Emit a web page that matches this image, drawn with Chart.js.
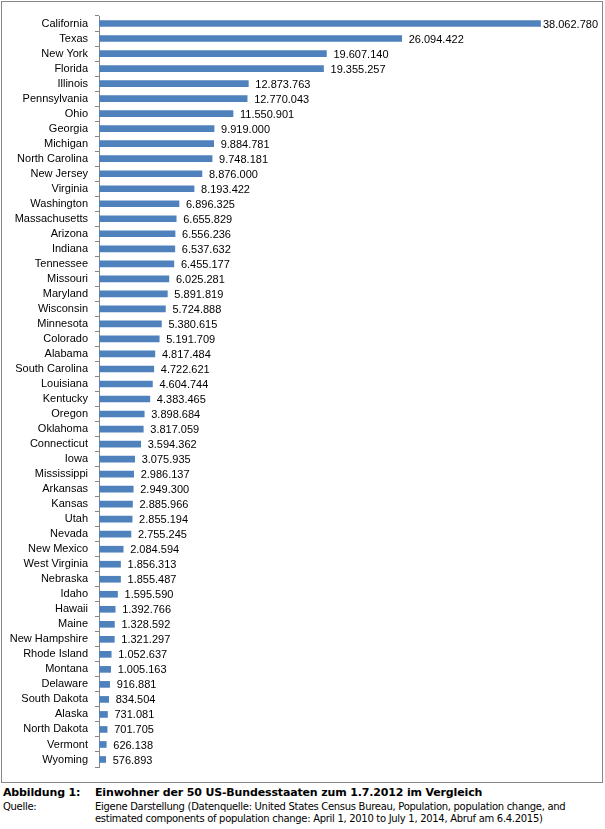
<!DOCTYPE html>
<html>
<head>
<meta charset="utf-8">
<script src="https://cdn.jsdelivr.net/npm/chart.js@4.4.1/dist/chart.umd.min.js"></script>
<style>
  body { margin: 0; background: #fff; width: 605px; height: 829px; position: relative; overflow: hidden; }
  #box { position: absolute; left: 1px; top: 1px; width: 600px; height: 780px; border: 1px solid #868686; }
  #myChart { position: absolute; left: 0; top: 0; }
  .cap { position: absolute; font-family: "DejaVu Sans", Verdana, sans-serif; color: #000; white-space: nowrap; }
  .t { font-weight: bold; font-size: 11px; letter-spacing: -0.15px; top: 786px; }
  .s { font-size: 10px; letter-spacing: -0.3px; }
</style>
</head>
<body>
<div id="box"></div>
<canvas id="myChart" width="605" height="785"></canvas>
<div class="cap t" style="left:3px">Abbildung 1:</div>
<div class="cap t" style="left:95px">Einwohner der 50 US-Bundesstaaten zum 1.7.2012 im Vergleich</div>
<div class="cap s" style="left:3px; top:801px">Quelle:</div>
<div class="cap s" style="left:95px; top:801px">Eigene Darstellung (Datenquelle: United States Census Bureau, Population, population change, and</div>
<div class="cap s" style="left:95px; top:813px">estimated components of population change: April 1, 2010 to July 1, 2014, Abruf am 6.4.2015)</div>
<script>
var states = ["California", "Texas", "New York", "Florida", "Illinois", "Pennsylvania", "Ohio", "Georgia",
  "Michigan", "North Carolina", "New Jersey", "Virginia", "Washington", "Massachusetts", "Arizona", "Indiana",
  "Tennessee", "Missouri", "Maryland", "Wisconsin", "Minnesota", "Colorado", "Alabama", "South Carolina",
  "Louisiana", "Kentucky", "Oregon", "Oklahoma", "Connecticut", "Iowa", "Mississippi", "Arkansas", "Kansas",
  "Utah", "Nevada", "New Mexico", "West Virginia", "Nebraska", "Idaho", "Hawaii", "Maine", "New Hampshire",
  "Rhode Island", "Montana", "Delaware", "South Dakota", "Alaska", "North Dakota", "Vermont", "Wyoming"];
var population = [38062780, 26094422, 19607140, 19355257, 12873763, 12770043, 11550901, 9919000,
  9884781, 9748181, 8876000, 8193422, 6896325, 6655829, 6556236, 6537632,
  6455177, 6025281, 5891819, 5724888, 5380615, 5191709, 4817484, 4722621,
  4604744, 4383465, 3898684, 3817059, 3594362, 3075935, 2986137, 2949300, 2885966,
  2855194, 2755245, 2084594, 1856313, 1855487, 1595590, 1392766, 1328592, 1321297,
  1052637, 1005163, 916881, 834504, 731081, 701705, 626138, 576893];
var barColor = "#4F81BD";

// 38062780 -> "38.062.780"
function fmt(v) {
  return String(v).replace(/\B(?=(\d{3})+(?!\d))/g, ".");
}

// value labels at the end of each bar
var valueLabels = {
  id: "valueLabels",
  afterDatasetsDraw: function(chart) {
    var ctx = chart.ctx;
    var meta = chart.getDatasetMeta(0);
    ctx.save();
    ctx.font = "11px 'Liberation Sans', Arial, sans-serif";
    ctx.fillStyle = "#000";
    ctx.textBaseline = "middle";
    meta.data.forEach(function(bar, i) {
      var txt = fmt(population[i]);
      var w = ctx.measureText(txt).width;
      var x = bar.x + 7;
      if (x + w > chart.width - 7) x = chart.width - 7 - w;
      ctx.fillText(txt, x, bar.y + 1);
    });
    ctx.restore();
  }
};

new Chart("myChart", {
  type: "bar",
  data: {
    labels: states,
    datasets: [{
      backgroundColor: barColor,
      data: population,
      barThickness: 6
    }]
  },
  options: {
    indexAxis: "y",
    responsive: false,
    animation: false,
    layout: { padding: { top: 16, bottom: 18, left: 0, right: 42 } },
    plugins: {
      legend: { display: false },
      tooltip: { enabled: false }
    },
    scales: {
      x: { display: false, min: 0, max: 40000000 },
      y: {
        afterFit: function(s) { s.width = 99; },
        border: { color: "#868686" },
        grid: { drawOnChartArea: false, tickLength: 4, color: "#868686", offset: true },
        ticks: {
          autoSkip: false,
          padding: 7,
          color: "#000",
          font: { family: "'Liberation Sans', Arial, sans-serif", size: 11 }
        }
      }
    }
  },
  plugins: [valueLabels]
});
</script>
</body>
</html>
